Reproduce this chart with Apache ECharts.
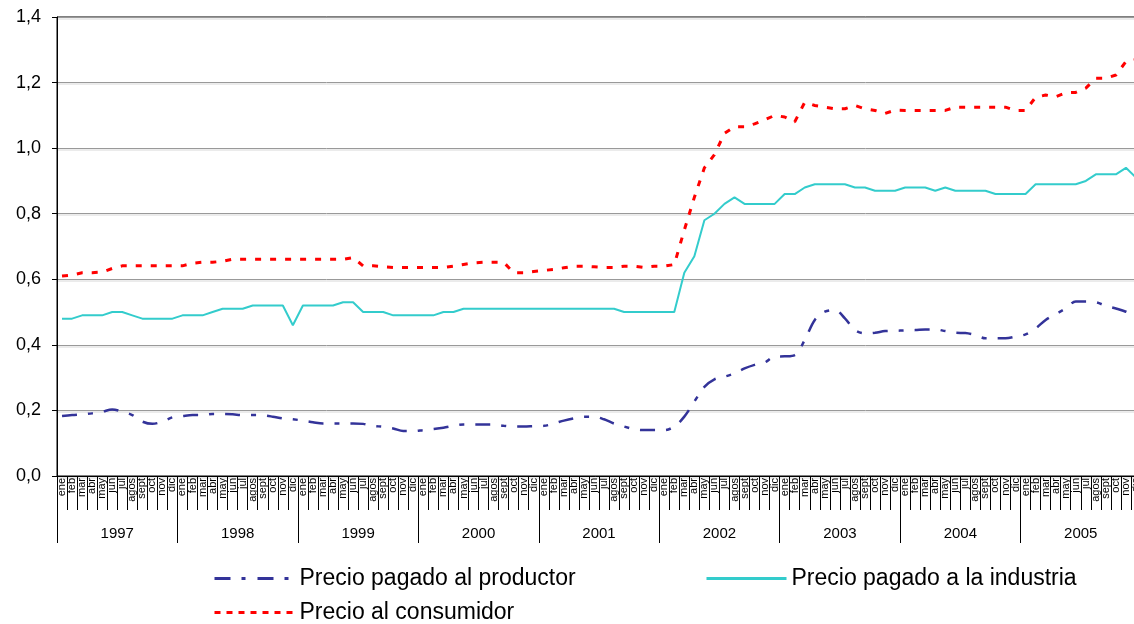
<!DOCTYPE html>
<html>
<head>
<meta charset="utf-8">
<script src="https://cdn.jsdelivr.net/npm/echarts@6/dist/echarts.min.js"></script>
<style>
html,body{margin:0;padding:0;background:#fff;}
#c{width:1134px;height:624px;}
</style>
</head>
<body>
<div id="c"></div>
<script>
var monthNames = ['ene','feb','mar','abr','may','jun','jul','agos','sept','oct','nov','dic'];
var years = ['1997','1998','1999','2000','2001','2002','2003','2004','2005'];
var yTicks = [0, 0.2, 0.4, 0.6, 0.8, 1.0, 1.2, 1.4];

var producer = [
  0.183,0.186,0.188,0.191,0.196,0.203,0.196,0.186,0.166,0.159,0.166,0.179,
  0.183,0.186,0.186,0.189,0.189,0.188,0.186,0.186,0.185,0.181,0.176,0.173,
  0.169,0.164,0.160,0.160,0.160,0.160,0.159,0.153,0.150,0.145,0.137,0.137,
  0.140,0.143,0.147,0.153,0.157,0.157,0.157,0.157,0.153,0.151,0.151,0.152,
  0.153,0.160,0.169,0.176,0.181,0.181,0.173,0.160,0.151,0.143,0.140,0.140,
  0.140,0.151,0.181,0.227,0.272,0.295,0.303,0.313,0.328,0.339,0.346,0.364,
  0.365,0.369,0.415,0.476,0.501,0.506,0.481,0.445,0.435,0.437,0.442,0.443,
  0.444,0.445,0.447,0.447,0.442,0.437,0.436,0.430,0.420,0.420,0.420,0.425,
  0.432,0.450,0.476,0.494,0.511,0.532,0.532,0.530,0.519,0.511,0.501,0.485
];
var industry = [
  0.48,0.48,0.49,0.49,0.49,0.50,0.50,0.49,0.48,0.48,0.48,0.48,
  0.49,0.49,0.49,0.50,0.51,0.51,0.51,0.52,0.52,0.52,0.52,0.46,
  0.52,0.52,0.52,0.52,0.53,0.53,0.50,0.50,0.50,0.49,0.49,0.49,
  0.49,0.49,0.50,0.50,0.51,0.51,0.51,0.51,0.51,0.51,0.51,0.51,
  0.51,0.51,0.51,0.51,0.51,0.51,0.51,0.51,0.50,0.50,0.50,0.50,
  0.50,0.50,0.62,0.67,0.78,0.80,0.83,0.85,0.83,0.83,0.83,0.83,
  0.86,0.86,0.88,0.89,0.89,0.89,0.89,0.88,0.88,0.87,0.87,0.87,
  0.88,0.88,0.88,0.87,0.88,0.87,0.87,0.87,0.87,0.86,0.86,0.86,
  0.86,0.89,0.89,0.89,0.89,0.89,0.90,0.92,0.92,0.92,0.94,0.91
];
var consumer = [
  0.610,0.613,0.620,0.620,0.622,0.633,0.641,0.641,0.641,0.641,0.641,0.641,
  0.641,0.649,0.652,0.652,0.655,0.661,0.661,0.661,0.661,0.661,0.661,0.661,
  0.661,0.661,0.661,0.661,0.661,0.666,0.641,0.641,0.638,0.636,0.636,0.636,
  0.636,0.636,0.636,0.640,0.645,0.650,0.652,0.652,0.652,0.620,0.620,0.624,
  0.627,0.630,0.635,0.640,0.640,0.638,0.636,0.636,0.640,0.640,0.636,0.640,
  0.640,0.645,0.750,0.850,0.940,0.980,1.045,1.065,1.065,1.074,1.086,1.100,
  1.095,1.080,1.140,1.130,1.125,1.120,1.120,1.130,1.120,1.115,1.106,1.116,
  1.115,1.115,1.115,1.115,1.115,1.125,1.125,1.125,1.125,1.125,1.125,1.115,
  1.115,1.155,1.162,1.157,1.169,1.170,1.183,1.213,1.213,1.223,1.264,1.270
];

var seriesNames = ['Precio pagado al productor', 'Precio pagado a la industria', 'Precio al consumidor'];

var months = [];
years.forEach(function () { monthNames.forEach(function (m) { months.push(m); }); });

var fam = '"Liberation Sans", Arial, sans-serif';
var chart = echarts.init(document.getElementById('c'), null, {renderer: 'canvas'});

function legendFor(idx, left, top, dash) {
  return {
    show: true,
    data: [seriesNames[idx]],
    left: left, top: top,
    orient: 'horizontal',
    itemWidth: 80, itemHeight: 14,
    padding: 0,
    selectedMode: false,
    textStyle: {fontFamily: fam, fontSize: 23, color: '#000'},
    itemStyle: {color: 'transparent', borderWidth: 0, opacity: 0},
    lineStyle: {width: 3, type: dash}
  };
}

chart.setOption({
  animation: false,
  backgroundColor: '#fff',
  grid: {left: 57, top: 17, width: 1084, height: 459, outerBoundsMode: 'none', containLabel: false,
    show: true, borderColor: '#000', borderWidth: 1, backgroundColor: 'transparent'},
  legend: [
    legendFor(0, 213, 567, [16, 11, 4, 12]),
    legendFor(1, 705, 567, 'solid'),
    legendFor(2, 213, 601, [6, 6])
  ],
  xAxis: [
    {
      type: 'category', data: months, boundaryGap: true, position: 'bottom',
      axisLine: {show: true, lineStyle: {color: '#000', width: 1}},
      axisTick: {show: true, interval: 0, length: 34, lineStyle: {color: '#000', width: 1}},
      axisLabel: {interval: 0, rotate: 90, margin: 2, fontSize: 11, fontFamily: '"Liberation Sans Narrow", "Liberation Sans", Arial, sans-serif', color: '#000', hideOverlap: false},
      splitLine: {show: false}
    },
    {
      type: 'category', data: years, boundaryGap: true, position: 'bottom', offset: 0,
      axisLine: {show: false},
      axisTick: {show: true, interval: 0, length: 67, lineStyle: {color: '#000', width: 1}},
      axisLabel: {interval: 0, margin: 50, fontSize: 15, fontFamily: fam, color: '#000'},
      splitLine: {show: false}
    }
  ],
  yAxis: {
    type: 'value', min: yTicks[0], max: yTicks[yTicks.length - 1], interval: 0.2,
    axisLine: {show: true, lineStyle: {color: '#000', width: 1}},
    axisTick: {show: true, length: 5, lineStyle: {color: '#000'}},
    axisLabel: {fontSize: 18, fontFamily: fam, color: '#000', margin: 16,
      formatter: function (v) { return v.toFixed(1).replace('.', ','); }},
    splitLine: {show: true, lineStyle: {color: '#999999', width: 1, shadowColor: '#d8d8d8', shadowOffsetY: 1.5, shadowBlur: 0}}
  },
  series: [
    {
      name: seriesNames[0], type: 'line', data: producer, xAxisIndex: 0,
      symbol: 'none', smooth: 0.35, color: '#333399',
      lineStyle: {color: '#333399', width: 2.5, type: [15, 11, 5, 11]}
    },
    {
      name: seriesNames[1], type: 'line', data: industry, xAxisIndex: 0,
      symbol: 'none', color: '#33CCCC',
      lineStyle: {color: '#33CCCC', width: 2}
    },
    {
      name: seriesNames[2], type: 'line', data: consumer, xAxisIndex: 0,
      symbol: 'none', color: '#FF0000',
      lineStyle: {color: '#FF0000', width: 3, type: [6, 9]}
    }
  ]
});
</script>
</body>
</html>
